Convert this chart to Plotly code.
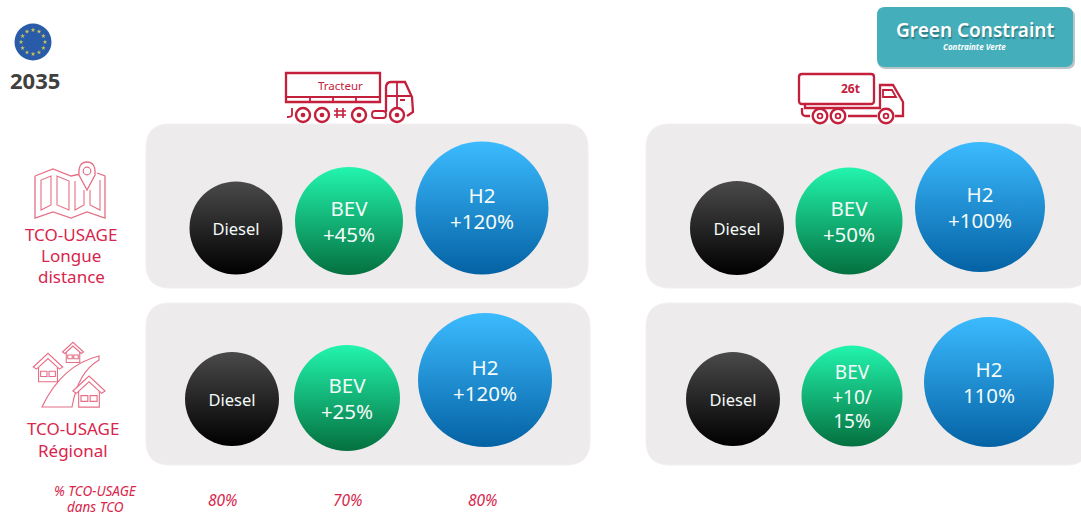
import math
import plotly.graph_objects as go

# ---- data ----
powertrains = ["Diesel", "BEV", "H2"]
vehicles = ["Tracteur", "26t"]
usages = ["Longue distance", "Régional"]
labels_tracteur_long = ["Diesel", "BEV<br>+45%", "H2<br>+120%"]
labels_26t_long = ["Diesel", "BEV<br>+50%", "H2<br>+100%"]
labels_tracteur_reg = ["Diesel", "BEV<br>+25%", "H2<br>+120%"]
labels_26t_reg = ["Diesel", "BEV<br>+10/<br>15%", "H2<br>110%"]
bubble_tracteur_long = [93, 108, 133]
bubble_26t_long = [94, 107, 130]
bubble_tracteur_reg = [94, 106, 134]
bubble_26t_reg = [94, 101, 130]
usage_share = ["80%", "70%", "80%"]

# ---- layout (pixel space) ----
W, H = 1081, 515
RED = "#d8254c"
DARK_RED = "#c4203c"
LIGHT_RED = "#e56f86"
FONT = "Noto Sans"
TOP = {"Diesel": "#4a4a4a", "BEV": "#22f5ae", "H2": "#3cbbff"}
BOT = {"Diesel": "#000000", "BEV": "#04703f", "H2": "#0462a4"}

bubble_x = [[236, 349, 482], [737, 849, 980], [232, 347, 485], [733, 852, 989]]
bubble_y = [[228, 221, 208], [228, 221, 207], [399, 398, 380], [399, 396, 382]]
bubble_sets = [bubble_tracteur_long, bubble_26t_long, bubble_tracteur_reg, bubble_26t_reg]
label_sets = [labels_tracteur_long, labels_26t_long, labels_tracteur_reg, labels_26t_reg]
font_sizes = [[16.5, 20.5, 20.5], [16.5, 20.5, 20.5], [16.5, 20.5, 20.5], [16.5, 19, 20.5]]
LABEL_DROP = 3

fig = go.Figure()
shapes, notes = [], []


def rrect(x0, y0, x1, y1, r):
    return (f"M{x0+r},{y0} L{x1-r},{y0} Q{x1},{y0} {x1},{y0+r} L{x1},{y1-r} Q{x1},{y1} {x1-r},{y1} "
            f"L{x0+r},{y1} Q{x0},{y1} {x0},{y1-r} L{x0},{y0+r} Q{x0},{y0} {x0+r},{y0} Z")


def path(d, color=DARK_RED, w=2.3, fill=None, layer="above"):
    shapes.append(dict(type="path", path=d, xref="x", yref="y", layer=layer,
                       line=dict(color=color, width=w), fillcolor=fill or "rgba(0,0,0,0)"))


def circle(cx, cy, r, color=DARK_RED, w=2.4, fill=None):
    shapes.append(dict(type="circle", x0=cx-r, x1=cx+r, y0=cy-r, y1=cy+r, xref="x", yref="y",
                       line=dict(color=color, width=w), fillcolor=fill or "rgba(0,0,0,0)"))


def note(x, y, text, size, color=RED, bold=False, italic=False, family=FONT, **font_extra):
    t = f"<i>{text}</i>" if italic else text
    t = f"<b>{t}</b>" if bold else t
    notes.append(dict(x=x, y=y, xref="x", yref="y", text=t, showarrow=False,
                      xanchor="center", yanchor="middle",
                      font=dict(size=size, color=color, family=family, **font_extra)))


# panels
for (x0, y0, x1, y1) in [(146, 124, 588, 288), (646, 124, 1090, 288), (146, 303, 590, 465), (646, 303, 1090, 465)]:
    path(rrect(x0, y0, x1, y1, 24), color="#f2eff0", w=1, fill="#eeebec", layer="below")

# Green Constraint button with its shadow
path(rrect(878, 9, 1075, 69, 8), color="rgba(0,0,0,0)", w=0, fill="#b9c4c6", layer="below")
path(rrect(877, 7, 1073, 67, 8), color="#45aebb", w=0, fill="#45aebb", layer="below")
note(974.5, 29.5, "Green Constraint", 19, color="#ffffff", weight=600,
     shadow="1px 1.5px 1px #2f7d87")
note(974.5, 46.5, "Contrainte Verte", 8, color="#ffffff", bold=True, italic=True)

# Tractor icon
path("M286,73 L380,73 L380,102 L286,102 Z")
path("M286,97 L380,97 M310,97 L310,102 M333,97 L333,102 M356,97 L356,102", w=1.8)
path("M386,112 L386,88 Q386,82 391,82 L405,82 L412,97 L413,112 L407,116")
path("M386,96 L412,96 M397,82 L397,108 M400,100 L405,100", w=1.8)
for cx in (303, 322, 359, 397):
    circle(cx, 115, 7)
    circle(cx, 115, 1.6, w=1.5, fill=DARK_RED)
path(rrect(372, 111, 386, 118, 3), w=1.8)
path("M292,108 L292,115 Q292,117 287,117", w=1.8)
path("M334,111 L346,111 M334,115 L346,115 M337,108 L337,118 M343,108 L343,118", w=1.6)
note(340, 85, "Tracteur", 11.5, color=DARK_RED)

# 26t icon
path(rrect(799, 74, 874, 104, 3))
path("M805,104 L805,108 L880,108 L880,85 L893,85 L903,102 L903,116 L895,116 M877,116 L848,116 "
     "M810,116 L806,116 Q802,116 802,112 L802,108")
path("M883,90 L892,90 L896,97 L883,97 Z", w=1.8)
for cx in (820, 838, 886):
    circle(cx, 116, 7.3)
    circle(cx, 116, 2.4, w=1.8)
note(850, 88, "26t", 12, color=DARK_RED, bold=True)

# Map icon
path("M35,176 L53,169 L71,176 L81,174 M35,176 L35,218 L53,212 L71,218 L87,212 L105,218 L105,176 L97,173",
     color=LIGHT_RED, w=1.3)
path("M41,180 L41,210 L51,205 L51,176 Z M57,176 L57,205 L69,210 L69,181 Z M75,181 L75,210 L84,205 L84,190 "
     "M90,190 L90,205 L100,210 L100,180", color=LIGHT_RED, w=1.1)
path("M87,190 L79,175 Q78,162 87,162 Q96,162 95,175 Z", color=LIGHT_RED, w=1.3, fill="#ffffff")
circle(87, 171, 3.8, color=LIGHT_RED, w=1.2)
note(71, 234, "TCO-USAGE", 17)
note(71, 255, "Longue", 17)
note(71, 276, "distance", 17)


# Regional icon
def house(cx, cy, s):
    path(f"M{cx-14*s},{cy} L{cx},{cy-13*s} L{cx+14*s},{cy} L{cx+11*s},{cy+2*s} L{cx},{cy-8*s} L{cx-11*s},{cy+2*s} Z",
         color=LIGHT_RED, w=1.1, fill="#ffffff")
    path(f"M{cx-9*s},{cy} L{cx-9*s},{cy+14*s} L{cx+9*s},{cy+14*s} L{cx+9*s},{cy} "
         f"M{cx-7*s},{cy+4*s} L{cx-1*s},{cy+4*s} L{cx-1*s},{cy+9*s} L{cx-7*s},{cy+9*s} Z "
         f"M{cx+1*s},{cy+4*s} L{cx+7*s},{cy+4*s} L{cx+7*s},{cy+9*s} L{cx+1*s},{cy+9*s} Z",
         color=LIGHT_RED, w=1.1)


path("M42,407 Q62,365 99,356 L99,360 Q78,372 72,407 Z", color=LIGHT_RED, w=1.2, fill="#ffffff")
house(73, 352, 0.75)
house(48, 367, 1.05)
house(89, 391, 1.15)
note(73, 428, "TCO-USAGE", 17)
note(73, 450, "Régional", 17)

# Bottom row
note(95, 491, "% TCO-USAGE", 13.5, italic=True)
note(95, 506.5, "dans TCO", 13.5, italic=True)
for x, s in zip([222, 347, 482], usage_share):
    note(x, 500, s, 15.5, italic=True)

# EU flag
fig.add_trace(go.Scatter(x=[33], y=[42], mode="markers", hoverinfo="skip", showlegend=False,
                         marker=dict(size=37, color="#2a5ba8", line=dict(width=0))))
fig.add_trace(go.Scatter(x=[33 + 12 * math.sin(i * math.pi / 6) for i in range(12)],
                         y=[42 - 12 * math.cos(i * math.pi / 6) for i in range(12)],
                         mode="markers", hoverinfo="skip", showlegend=False,
                         marker=dict(size=3.5, symbol="star", color="#c9c45a", line=dict(width=0))))
note(35, 80, "2035", 22, color="#404040", bold=True)

# Bubbles and their labels
for xs, ys, sizes, labs, fs in zip(bubble_x, bubble_y, bubble_sets, label_sets, font_sizes):
    fig.add_trace(go.Scatter(
        x=xs, y=ys, mode="markers", showlegend=False, text=labs, hoverinfo="text",
        marker=dict(size=sizes, color=[TOP[p] for p in powertrains], line=dict(width=0),
                    opacity=1,
                    gradient=dict(type="vertical", color=[BOT[p] for p in powertrains])),
    ))
    fig.add_trace(go.Scatter(
        x=xs, y=[v + LABEL_DROP for v in ys], mode="text", text=labs, textposition="middle center",
        textfont=dict(size=fs, color="#f4fbf8", family=FONT), showlegend=False, hoverinfo="skip",
    ))

fig.update_layout(
    width=W, height=H, margin=dict(l=0, r=0, t=0, b=0), paper_bgcolor="#ffffff", plot_bgcolor="#ffffff",
    xaxis=dict(range=[0, W], visible=False, fixedrange=True),
    yaxis=dict(range=[H, 0], visible=False, fixedrange=True),
    shapes=shapes, annotations=notes, font=dict(family=FONT),
)
fig.write_html("out.html", config={"displayModeBar": False},
               post_script="document.body.style.margin='0';document.documentElement.style.overflow='hidden';")
